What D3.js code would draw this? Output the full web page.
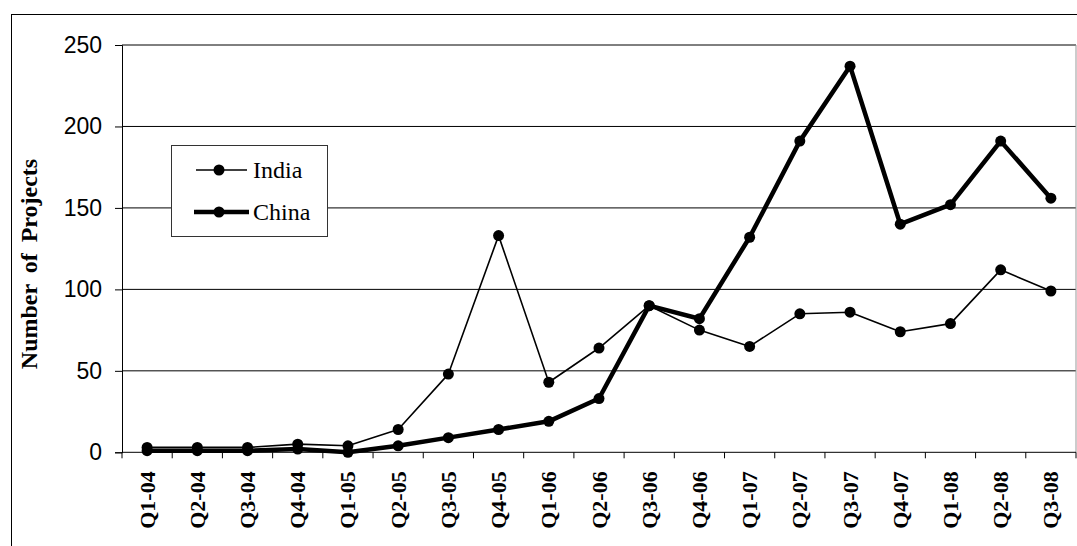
<!DOCTYPE html>
<html>
<head>
<meta charset="utf-8">
<script src="https://cdn.jsdelivr.net/npm/d3@7/dist/d3.min.js"></script>
<style>
  html, body { margin: 0; padding: 0; background: #fff; }
  svg { display: block; }
</style>
</head>
<body>
<svg id="chart" width="1077" height="546"></svg>
<script>
// Quarterly project counts
const quarters = ["Q1-04","Q2-04","Q3-04","Q4-04","Q1-05","Q2-05","Q3-05","Q4-05",
                  "Q1-06","Q2-06","Q3-06","Q4-06","Q1-07","Q2-07","Q3-07","Q4-07",
                  "Q1-08","Q2-08","Q3-08"];
const india = [3, 3, 3, 5, 4, 14, 48, 133, 43, 64, 90, 75, 65, 85, 86, 74, 79, 112, 99];
const china = [1, 1, 1, 2, 0, 4, 9, 14, 19, 33, 90, 82, 132, 191, 237, 140, 152, 191, 156];
const yTicks = [0, 50, 100, 150, 200, 250];

const svg = d3.select("#chart");
const plotLeft = 122, plotRight = 1076, plotTop = 45, plotBottom = 452.3;

const x = d3.scaleBand().domain(quarters).range([plotLeft, plotRight]);
const y = d3.scaleLinear().domain([0, 250]).range([plotBottom, plotTop]);

// outer chart frame
svg.append("rect")
  .attr("x", 11.5).attr("y", 14.5)
  .attr("width", 1100).attr("height", 600)
  .attr("fill", "none").attr("stroke", "#000").attr("stroke-width", 1);

// horizontal gridlines
svg.append("g").selectAll("line")
  .data(yTicks.filter(d => d > 0))
  .join("line")
  .attr("x1", plotLeft).attr("x2", plotRight)
  .attr("y1", d => y(d)).attr("y2", d => y(d))
  .attr("stroke", "#000").attr("stroke-width", 1);

// right edge of plot area
svg.append("line")
  .attr("x1", plotRight).attr("x2", plotRight)
  .attr("y1", plotTop).attr("y2", plotBottom)
  .attr("stroke", "#999").attr("stroke-width", 1);

// y axis
const yAxis = svg.append("g")
  .attr("transform", `translate(${plotLeft},0)`)
  .call(d3.axisLeft(y).tickValues(yTicks).tickSize(7).tickPadding(13));
yAxis.select(".domain").attr("stroke", "#000");
yAxis.selectAll(".tick line").attr("stroke", "#000");
yAxis.selectAll(".tick text")
  .attr("font-family", "'Liberation Sans', Arial, sans-serif")
  .attr("font-size", 23).attr("fill", "#000");

// x axis: ticks between categories
const xg = svg.append("g");
xg.append("line")
  .attr("x1", plotLeft).attr("x2", plotRight)
  .attr("y1", plotBottom).attr("y2", plotBottom)
  .attr("stroke", "#000");
const bounds = quarters.map(q => x(q)).concat([plotRight]);
xg.selectAll("line.tk")
  .data(bounds)
  .join("line").attr("class", "tk")
  .attr("x1", d => d).attr("x2", d => d)
  .attr("y1", plotBottom).attr("y2", plotBottom + 6)
  .attr("stroke", "#000");
xg.selectAll("text")
  .data(quarters)
  .join("text")
  .attr("transform", d => `translate(${x(d) + x.bandwidth() / 2 + 7.5},${plotBottom + 19}) rotate(-90)`)
  .attr("text-anchor", "end")
  .attr("font-family", "'Liberation Serif', 'Times New Roman', serif")
  .attr("font-weight", "bold")
  .attr("font-size", 22)
  .attr("fill", "#000")
  .text(d => d);

// y axis title
svg.append("text")
  .attr("transform", `translate(37,264) rotate(-90)`)
  .attr("text-anchor", "middle")
  .attr("font-family", "'Liberation Serif', 'Times New Roman', serif")
  .attr("font-weight", "bold")
  .attr("font-size", 24)
  .attr("word-spacing", 5)
  .attr("fill", "#000")
  .text("Number of Projects");

const cx = (d, i) => x(quarters[i]) + x.bandwidth() / 2;
const line = d3.line().x((d, i) => cx(d, i)).y(d => y(d));

// series lines and markers
const series = [
  { name: "India", values: india, width: 1.6, r: 5.5 },
  { name: "China", values: china, width: 4.5, r: 5.5 }
];
series.forEach(s => {
  svg.append("path")
    .datum(s.values)
    .attr("d", line)
    .attr("fill", "none")
    .attr("stroke", "#000")
    .attr("stroke-width", s.width)
    .attr("stroke-linejoin", "round");
  svg.append("g").selectAll("circle")
    .data(s.values)
    .join("circle")
    .attr("cx", cx)
    .attr("cy", d => y(d))
    .attr("r", s.r)
    .attr("fill", "#000");
});

// legend
const lg = svg.append("g");
lg.append("rect")
  .attr("x", 171.5).attr("y", 145.5)
  .attr("width", 156).attr("height", 91)
  .attr("fill", "#fff").attr("stroke", "#333").attr("stroke-width", 1);
const legendRows = [
  { s: series[0], y: 170, x1: 196, x2: 247 },
  { s: series[1], y: 212, x1: 194, x2: 249 }
];
legendRows.forEach(row => {
  lg.append("line")
    .attr("x1", row.x1).attr("x2", row.x2)
    .attr("y1", row.y).attr("y2", row.y)
    .attr("stroke", "#000").attr("stroke-width", row.s.width);
  lg.append("circle")
    .attr("cx", 219).attr("cy", row.y).attr("r", row.s.r).attr("fill", "#000");
  lg.append("text")
    .attr("x", 253).attr("y", row.y + 8)
    .attr("font-family", "'Liberation Serif', 'Times New Roman', serif")
    .attr("font-size", 24)
    .attr("fill", "#000")
    .text(row.s.name);
});
</script>
</body>
</html>
